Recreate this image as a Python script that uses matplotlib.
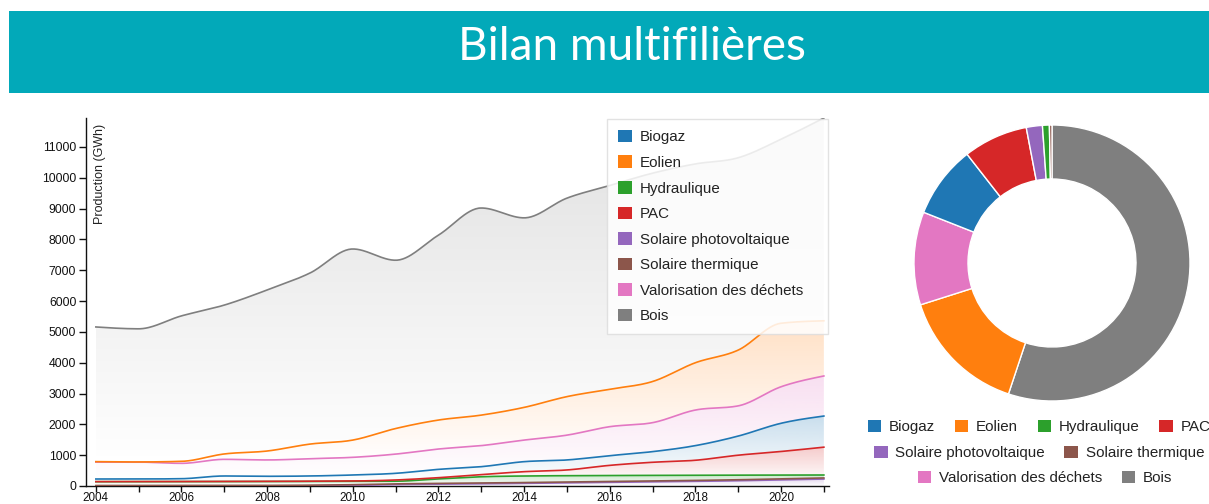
import numpy as np
import matplotlib
matplotlib.use("Agg")
import matplotlib.pyplot as plt
from matplotlib.patches import Patch, Rectangle, Polygon
from matplotlib.colors import to_rgb

plt.rcParams['font.family'] = ['Liberation Sans', 'DejaVu Sans']

# ---------------- data ----------------
years = list(range(2004, 2022))
categories = ["Biogaz", "Eolien", "Hydraulique", "PAC", "Solaire photovoltaique",
              "Solaire thermique", "Valorisation des déchets", "Bois"]
colors = ["#1f77b4", "#ff7f0e", "#2ca02c", "#d62728", "#9467bd",
          "#8c564b", "#e377c2", "#7f7f7f"]

biogaz = [85, 85, 92, 175, 165, 170, 195, 216, 270, 257, 325, 325, 315, 345, 475, 620, 915, 1010]
eolien = [15, 5, 65, 175, 290, 473, 560, 830, 940, 990, 1060, 1250, 1215, 1335, 1535, 1810, 2060, 1790]
hydraulique = [125, 125, 124, 125, 125, 121, 108, 86, 145, 204, 213, 207, 196, 185, 169, 150, 121, 96]
pac = [2, 2, 3, 5, 5, 7, 12, 40, 40, 70, 140, 185, 330, 425, 485, 648, 765, 903]
solaire_pv = [0, 0, 0, 0, 0, 5, 20, 45, 60, 70, 85, 100, 115, 130, 150, 170, 200, 225]
solaire_th = [15, 15, 18, 20, 20, 22, 22, 24, 25, 26, 27, 28, 29, 30, 31, 32, 34, 36]
valorisation = [548, 548, 498, 540, 530, 562, 573, 624, 660, 683, 700, 805, 940, 940, 1155, 980, 1185, 1300]
bois = [4370, 4320, 4720, 4830, 5225, 5550, 6200, 5460, 6000, 6720, 6150, 6440, 6610, 6760, 6450, 6240, 5970, 6580]

series = {
    "Biogaz": biogaz, "Eolien": eolien, "Hydraulique": hydraulique, "PAC": pac,
    "Solaire photovoltaique": solaire_pv, "Solaire thermique": solaire_th,
    "Valorisation des déchets": valorisation, "Bois": bois,
}
stack_order = ["Solaire photovoltaique", "Solaire thermique", "Hydraulique", "PAC",
               "Biogaz", "Valorisation des déchets", "Eolien", "Bois"]
y_ticks = list(range(0, 12000, 1000))
x_major = list(range(2004, 2022, 2))
x_minor = list(range(2005, 2022, 2))
title = "Bilan multifilières"
ylabel = "Production (GWh)"
col = dict(zip(categories, colors))


# ---------------- helpers (rendering of a monotone curve) ----------------
def monotone(x, y, n=30):
    x = np.asarray(x, float)
    y = np.asarray(y, float)
    h = np.diff(x)
    d = np.diff(y) / h
    m = np.zeros_like(y)
    for k in range(1, len(y) - 1):
        s0, s1 = d[k - 1], d[k]
        p = (s0 * h[k] + s1 * h[k - 1]) / (h[k - 1] + h[k])
        m[k] = (np.sign(s0) + np.sign(s1)) * min(abs(s0), abs(s1), 0.5 * abs(p))
    m[0] = (3 * d[0] - m[1]) / 2 if len(y) > 2 else d[0]
    m[-1] = (3 * d[-1] - m[-2]) / 2 if len(y) > 2 else d[-1]
    xs, ys = [], []
    for k in range(len(h)):
        t = np.linspace(0, 1, n, endpoint=(k == len(h) - 1))
        h00 = 2 * t**3 - 3 * t**2 + 1
        h10 = t**3 - 2 * t**2 + t
        h01 = -2 * t**3 + 3 * t**2
        h11 = t**3 - t**2
        xs.append(x[k] + t * h[k])
        ys.append(h00 * y[k] + h10 * h[k] * m[k] + h01 * y[k + 1] + h11 * h[k] * m[k + 1])
    return np.concatenate(xs), np.concatenate(ys)


# ---------------- figure ----------------
W, H = 1209, 504
fig = plt.figure(figsize=(W / 100, H / 100), dpi=100)

# banner
fig.patches.append(Rectangle((9 / W, 1 - 93 / H), (W - 9) / W, 82 / H,
                             transform=fig.transFigure, facecolor="#02a9b9",
                             edgecolor="none", zorder=0))
fig.text(632 / W, 1 - 47 / H, title, ha="center", va="center", color="white",
         fontsize=33, family=["Lato", "DejaVu Sans"], fontweight="normal")

# ---------------- stacked area chart ----------------
ax = fig.add_axes([86 / W, 1 - 486 / H, (829 - 86) / W, (486 - 118) / H])
cum = np.zeros(len(years))
totals = np.sum([series[c] for c in categories], axis=0)
for name in stack_order:
    lower = cum.copy()
    cum = cum + np.asarray(series[name], float)
    xs, lo = monotone(years, lower)
    _, hi = monotone(years, cum)
    verts = np.vstack([np.column_stack([xs, hi]), np.column_stack([xs[::-1], lo[::-1]])])
    poly = Polygon(verts, closed=True, facecolor="none", edgecolor="none")
    ax.add_patch(poly)
    rgb = to_rgb(col[name])
    img = np.zeros((256, 1, 4))
    img[..., 0], img[..., 1], img[..., 2] = rgb
    img[:, 0, 3] = np.linspace(0.0, 0.24, 256)
    im = ax.imshow(img, extent=[xs[0], xs[-1], lo.min(), hi.max()], origin="lower",
                   aspect="auto", interpolation="bilinear", zorder=1)
    im.set_clip_path(poly)
    ax.plot(xs, hi, color=col[name], lw=1.2, zorder=3)

ax.set_xlim(2003.77, 2021.12)
ax.set_ylim(0, totals.max())
ax.set_xticks(x_major)
ax.set_xticklabels([str(y) for y in x_major])
ax.set_xticks(x_minor, minor=True)
ax.set_yticks(y_ticks)
ax.set_yticklabels([str(v) for v in y_ticks])
ax.tick_params(axis="both", which="both", length=5, width=1, labelsize=8.8,
               colors="#111111", pad=2)
ax.tick_params(axis="x", which="both", length=4, labelsize=8.4, pad=0.5)
for s in ["top", "right"]:
    ax.spines[s].set_visible(False)
for s in ["left", "bottom"]:
    ax.spines[s].set_color("#111111")
    ax.spines[s].set_linewidth(1)
ax.patch.set_alpha(0)
ax.text(0.019, 0.985, ylabel, transform=ax.transAxes, rotation=90, ha="center",
        va="top", fontsize=9, color="#222222")

handles = [Patch(facecolor=c, edgecolor="none") for c in colors]
leg = ax.legend(handles, categories, loc="upper left",
                bbox_to_anchor=(607 / W, 1 - 119 / H, 221 / W, 0),
                bbox_transform=fig.transFigure, mode="expand",
                fontsize=10.9, handlelength=0.9, handleheight=0.9,
                handletextpad=0.55, labelspacing=0.73, borderpad=0.72,
                borderaxespad=0, frameon=True, fancybox=False,
                framealpha=0.85, edgecolor="#dddddd")
leg.get_frame().set_linewidth(1)
for t in leg.get_texts():
    t.set_color("#222222")
leg.set_zorder(10)

# ---------------- donut ----------------
last = {c: series[c][-1] for c in categories}
order = sorted(categories, key=lambda c: -last[c])
R = 140
dax = fig.add_axes([(1052 - R) / W, 1 - (263 + R) / H, 2 * R / W, 2 * R / H])
dax.pie([last[c] for c in order], colors=[col[c] for c in order],
        radius=138 / R, startangle=90, counterclock=False,
        wedgeprops=dict(width=54 / R, edgecolor="white", linewidth=1))
dax.set_xlim(-1, 1)
dax.set_ylim(-1, 1)
dax.set_aspect("auto")
dax.axis("off")

rows = [(["Biogaz", "Eolien", "Hydraulique", "PAC"], 1039, 427),
        (["Solaire photovoltaique", "Solaire thermique"], 1039, 453),
        (["Valorisation des déchets", "Bois"], 1045, 478)]
for labels, cx, cy in rows:
    lg = fig.legend([Patch(facecolor=col[l], edgecolor="none") for l in labels], labels,
                    loc="center", bbox_to_anchor=(cx / W, 1 - cy / H), ncol=len(labels),
                    frameon=False, fontsize=10.9, handlelength=0.9, handleheight=0.9,
                    handletextpad=0.5, columnspacing=1.3, borderpad=0, borderaxespad=0)
    for t in lg.get_texts():
        t.set_color("#222222")

fig.savefig("out.png", dpi=100)
